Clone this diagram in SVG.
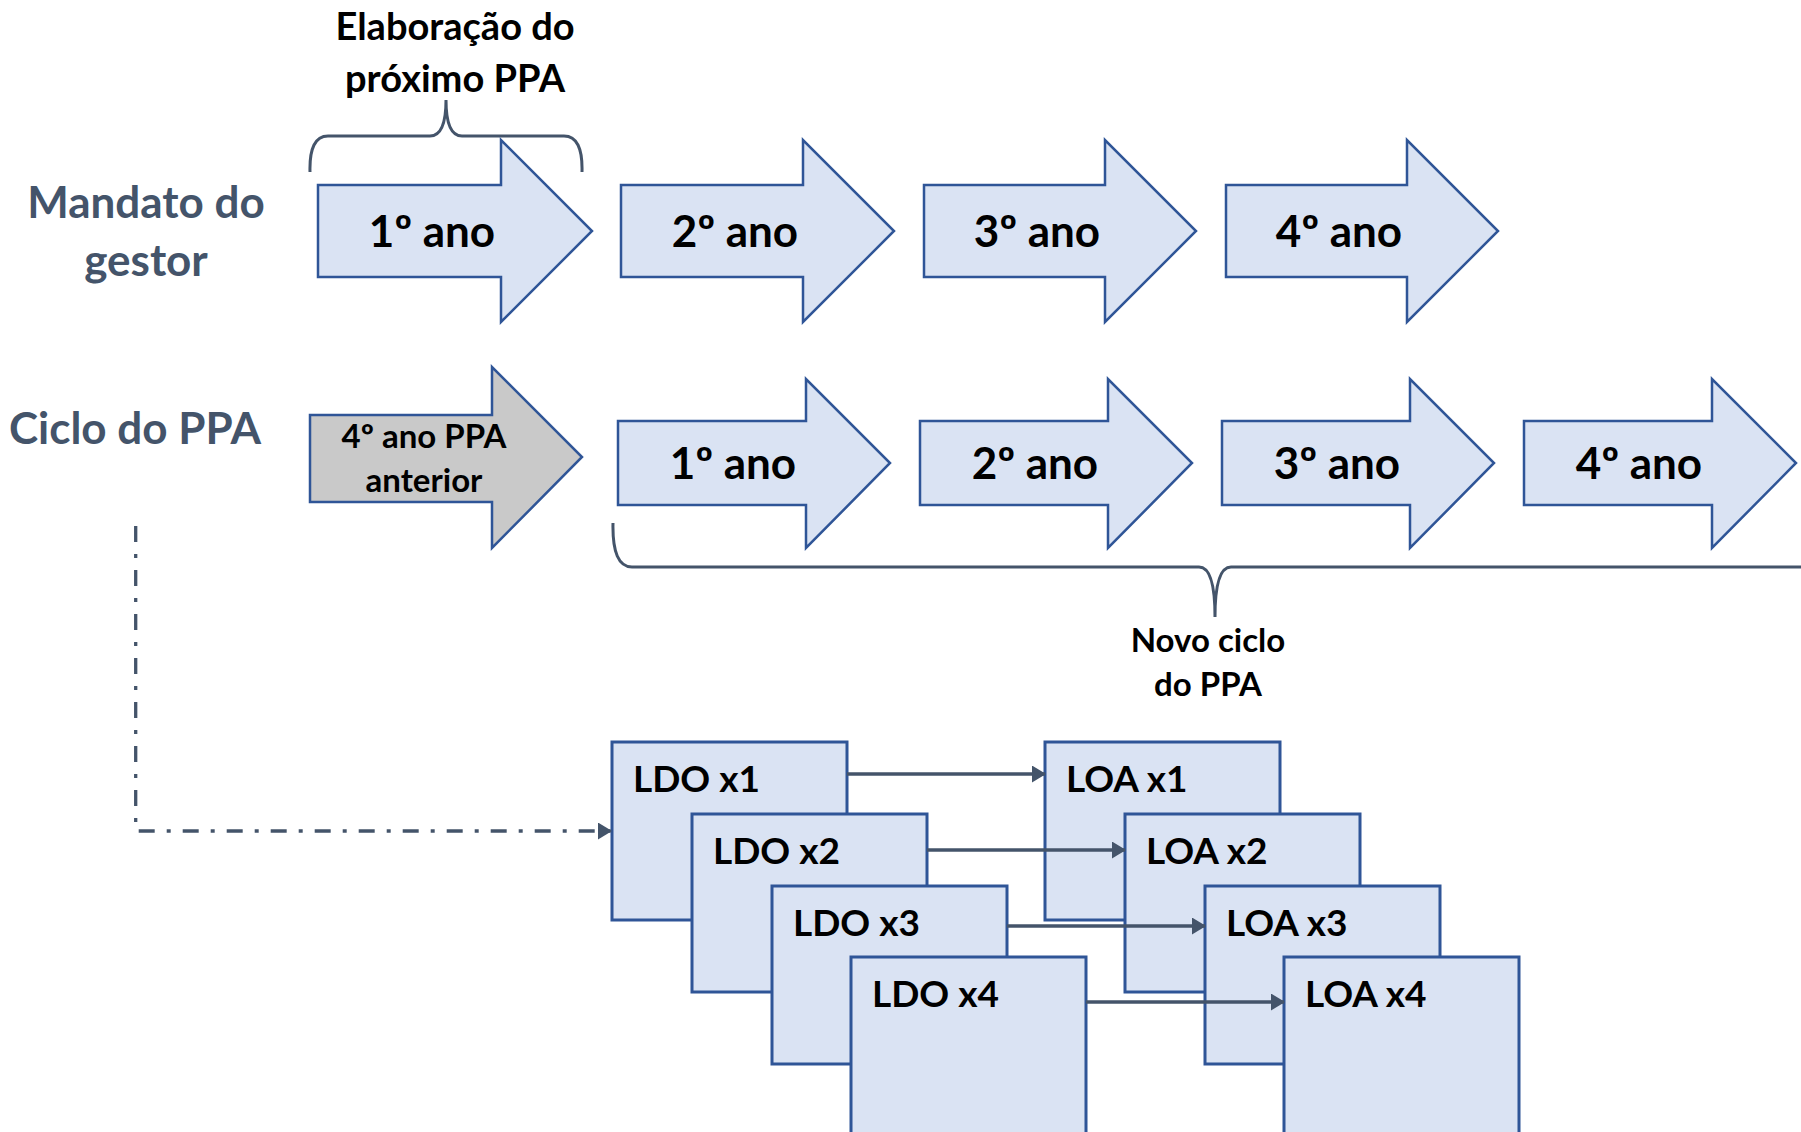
<svg xmlns="http://www.w3.org/2000/svg" width="1801" height="1132" viewBox="0 0 1801 1132">
<style>
.arr{fill:#DAE3F3;stroke:#2F5597;stroke-width:2.5;stroke-linejoin:miter}
.gray{fill:#C9C9C9;stroke:#2F5597;stroke-width:2.5}
.box{fill:#DAE3F3;stroke:#2F5597;stroke-width:3}
.t{font-family:Lato,"Liberation Sans",sans-serif;font-weight:bold;fill:#000}
.big{font-size:44px;text-anchor:middle}
.lbl{font-family:Lato,"Liberation Sans",sans-serif;font-weight:bold;fill:#44546A;font-size:44px;text-anchor:middle}
.box-t{font-size:37px}
.brace{fill:none;stroke:#44546A;stroke-width:3}
.conn{fill:none;stroke:#44546A;stroke-width:3.3}
</style>
<defs>
<marker id="ah2" viewBox="0 0 14 17" refX="13" refY="8.5" markerWidth="14" markerHeight="17" orient="auto" markerUnits="userSpaceOnUse">
<path d="M0,0 L14,8.5 L0,17 z" fill="#44546A"/>
</marker>
</defs>

<g id="label-mandato">
<text class="lbl" x="146" y="218">Mandato do</text>
<text class="lbl" x="146" y="276">gestor</text>
</g>
<g id="label-ciclo">
<text class="lbl" x="135" y="444">Ciclo do PPA</text>
</g>

<g id="label-elaboracao">
<text class="t" x="455" y="40" font-size="38" text-anchor="middle">Elaboração do</text>
<text class="t" x="455" y="92" font-size="38" text-anchor="middle">próximo PPA</text>
</g>
<g id="brace-top">
<path class="brace" d="M310,172 Q309,136 328,136 L430,136 Q446,136 446,100 Q446,136 462,136 L564,136 Q583,136 582,172"/>
</g>

<g id="mandato-1">
<path class="arr" d="M318,185 H501 V140 L592,231 L501,322 V277 H318 Z"/>
<text class="t big" x="432" y="247">1º ano</text>
</g>
<g id="mandato-2">
<path class="arr" d="M621,185 H803 V140 L894,231 L803,322 V277 H621 Z"/>
<text class="t big" x="735" y="247">2º ano</text>
</g>
<g id="mandato-3">
<path class="arr" d="M924,185 H1105 V140 L1196,231 L1105,322 V277 H924 Z"/>
<text class="t big" x="1037" y="247">3º ano</text>
</g>
<g id="mandato-4">
<path class="arr" d="M1226,185 H1407 V140 L1498,231 L1407,322 V277 H1226 Z"/>
<text class="t big" x="1339" y="247">4º ano</text>
</g>

<g id="ppa-anterior">
<path class="gray" d="M310,415 H492 V367 L582,457 L492,548 V502 H310 Z"/>
<text class="t" x="424" y="448" font-size="33" text-anchor="middle">4º ano PPA</text>
<text class="t" x="424" y="492" font-size="33" text-anchor="middle">anterior</text>
</g>
<g id="ppa-1">
<path class="arr" d="M618,421 H806 V379 L890,463 L806,548 V505 H618 Z"/>
<text class="t big" x="733" y="479">1º ano</text>
</g>
<g id="ppa-2">
<path class="arr" d="M920,421 H1108 V379 L1192,463 L1108,548 V505 H920 Z"/>
<text class="t big" x="1035" y="479">2º ano</text>
</g>
<g id="ppa-3">
<path class="arr" d="M1222,421 H1410 V379 L1494,463 L1410,548 V505 H1222 Z"/>
<text class="t big" x="1337" y="479">3º ano</text>
</g>
<g id="ppa-4">
<path class="arr" d="M1524,421 H1712 V379 L1796,463 L1712,548 V505 H1524 Z"/>
<text class="t big" x="1639" y="479">4º ano</text>
</g>

<g id="brace-bottom">
<path class="brace" d="M613,523 Q612,567 632,567 L1199,567 Q1215,567 1215,617 Q1215,567 1231,567 L1801,567"/>
</g>
<g id="label-novo">
<text class="t" x="1208" y="652" font-size="33" text-anchor="middle">Novo ciclo</text>
<text class="t" x="1208" y="696" font-size="33" text-anchor="middle">do PPA</text>
</g>

<g id="ldo-1"><rect class="box" x="612" y="742" width="235" height="178"/><text class="t box-t" x="633" y="792">LDO x1</text></g>
<g id="loa-1"><rect class="box" x="1045" y="742" width="235" height="178"/><text class="t box-t" x="1066" y="792">LOA x1</text></g>
<g id="ldo-2"><rect class="box" x="692" y="814" width="235" height="178"/><text class="t box-t" x="713" y="864">LDO x2</text></g>
<g id="loa-2"><rect class="box" x="1125" y="814" width="235" height="178"/><text class="t box-t" x="1146" y="864">LOA x2</text></g>
<g id="ldo-3"><rect class="box" x="772" y="886" width="235" height="178"/><text class="t box-t" x="793" y="936">LDO x3</text></g>
<g id="loa-3"><rect class="box" x="1205" y="886" width="235" height="178"/><text class="t box-t" x="1226" y="936">LOA x3</text></g>
<g id="ldo-4"><rect class="box" x="851" y="957" width="235" height="200"/><text class="t box-t" x="872" y="1007">LDO x4</text></g>
<g id="loa-4"><rect class="box" x="1284" y="957" width="235" height="200"/><text class="t box-t" x="1305" y="1007">LOA x4</text></g>

<g id="connectors">
<path class="conn" d="M135.7,526 V831 H611" stroke-dasharray="16 12 4 12" marker-end="url(#ah2)"/>
<path class="conn" d="M847,774 H1045" marker-end="url(#ah2)"/>
<path class="conn" d="M927,850 H1125" marker-end="url(#ah2)"/>
<path class="conn" d="M1007,926 H1205" marker-end="url(#ah2)"/>
<path class="conn" d="M1086,1002 H1284" marker-end="url(#ah2)"/>
</g>
</svg>
